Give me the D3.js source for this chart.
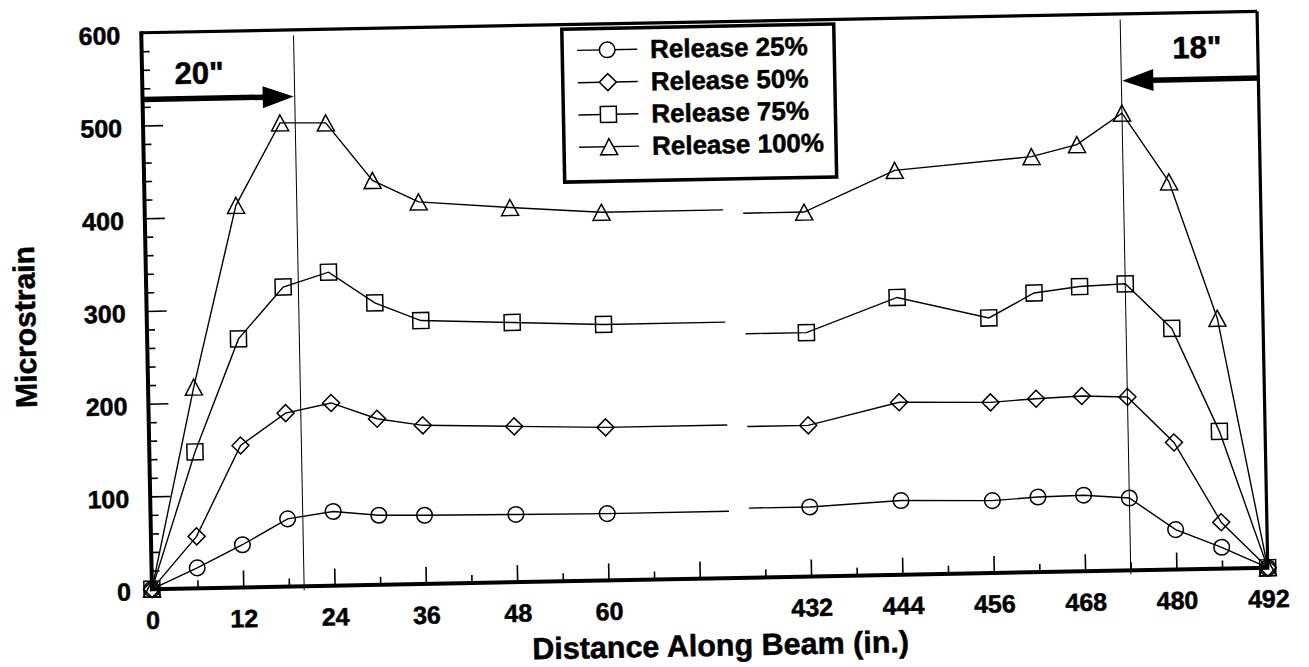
<!DOCTYPE html>
<html>
<head>
<meta charset="utf-8">
<script src="https://cdnjs.cloudflare.com/ajax/libs/d3/7.8.5/d3.min.js"></script>
<style>
  body { margin: 0; background: #fff; }
  text { font-family: "Liberation Sans", Arial, sans-serif; font-weight: bold; fill: #000; stroke: #000; stroke-width: 0.5px; }
</style>
</head>
<body>
<svg id="chart" width="1309" height="667"></svg>
<script>
// stations along the beam (in.), left end and right end of the beam
var posLeft = [0, 6, 12, 18, 24, 30, 36, 48, 60];
var posRight = [432, 444, 456, 462, 468, 474, 480, 486, 492];

// microstrain, null = no reading
var release25L = [0, 22, 46, 73, 80, 75, 74, 73, 72];
var release25R = [75, 80, 78, 81, 82, 78, 43, 23, 0];
var release50L = [0, 56, 153, 187, 197, 179, 171, 168, 165];
var release50R = [163, 186, 184, 187, 189, 187, 137, 50, 0];
var release75L = [0, 147, 268, 323, 338, 304, 284, 280, 276];
var release75R = [263, 299, 275, 301, 307, 309, 260, 148, 0];
var release100L = [0, 217, 412, 500, 499, 436, 412, 404, 397];
var release100R = [393, 436, null, 448, 460, 493, 418, 270, 0];

var seriesNames = ["Release 25%", "Release 50%", "Release 75%", "Release 100%"];
var seriesSymbols = ["circle", "diamond", "square", "triangle"];

var xMajor = [0, 12, 24, 36, 48, 60, 72, 432, 444, 456, 468, 480, 492];
var xMinor = [6, 18, 30, 42, 54, 66, 426, 438, 450, 462, 474, 486];
var xLabels = [0, 12, 24, 36, 48, 60, 432, 444, 456, 468, 480, 492];
var yMajor = [0, 100, 200, 300, 400, 500, 600];
var yMinor = d3.range(20, 600, 20).filter(v => v % 100 !== 0);

// transfer lengths marked on the plot
var transferLines = [20, 474];

var series = seriesNames.map((name, i) => ({
  name: name,
  symbol: seriesSymbols[i],
  left: posLeft.map((p, j) => ({ pos: p, val: [release25L, release50L, release75L, release100L][i][j] })).filter(d => d.val !== null),
  right: posRight.map((p, j) => ({ pos: p, val: [release25R, release50R, release75R, release100R][i][j] })).filter(d => d.val !== null)
}));

var plotL = 146.5, plotR = 1262.5, plotT = 22, plotB = 578.5;
var k = 7.61, gap = 20;

// broken axis: beam ends only
var x = d3.scaleLinear()
  .domain([0, 76, 424, 492])
  .range([plotL, plotL + 76 * k, plotL + 76 * k + gap, plotR]);
var y = d3.scaleLinear().domain([0, 600]).range([plotB, plotT]);

var svg = d3.select("#chart");
svg.append("rect").attr("width", 1309).attr("height", 667).attr("fill", "#fff");

// the scan is slightly tilted
var g = svg.append("g").attr("transform", "rotate(-1.1, 704, 300)");

// y axis ticks (inward)
g.append("g")
  .attr("transform", "translate(" + plotL + ",0)")
  .call(d3.axisLeft(y).tickValues(yMinor).tickSize(-8).tickFormat(""))
  .call(s => s.select(".domain").remove());
var gy = g.append("g")
  .attr("transform", "translate(" + plotL + ",0)")
  .call(d3.axisLeft(y).tickValues(yMajor).tickSize(-20).tickPadding(21).tickFormat(d3.format("d")))
  .call(s => s.select(".domain").remove());
gy.selectAll("text").attr("dy", "0.42em").style("font-size", "25px");

// x axis ticks (inward)
g.append("g")
  .attr("transform", "translate(0," + plotB + ")")
  .call(d3.axisBottom(x).tickValues(xMinor).tickSize(-8).tickFormat(""))
  .call(s => s.select(".domain").remove());
var gx = g.append("g")
  .attr("transform", "translate(0," + plotB + ")")
  .call(d3.axisBottom(x).tickValues(xMajor).tickSize(-17).tickPadding(22)
    .tickFormat(d => xLabels.includes(d) ? d : ""))
  .call(s => s.select(".domain").remove());
gx.selectAll("text").style("font-size", "25px");

g.selectAll(".tick line").attr("stroke", "#000").attr("stroke-width", 1.6);

// frame
g.append("line").attr("x1", plotL).attr("x2", plotR).attr("y1", plotT).attr("y2", plotT)
  .attr("stroke", "#000").attr("stroke-width", 3.2);
g.append("line").attr("x1", plotR).attr("x2", plotR).attr("y1", plotT).attr("y2", plotB)
  .attr("stroke", "#000").attr("stroke-width", 3.2);
g.append("line").attr("x1", plotL).attr("x2", plotL).attr("y1", plotT - 1.5).attr("y2", plotB + 2)
  .attr("stroke", "#000").attr("stroke-width", 4);
g.append("line").attr("x1", plotL - 2).attr("x2", plotR + 1.5).attr("y1", plotB).attr("y2", plotB)
  .attr("stroke", "#000").attr("stroke-width", 4);

// transfer length lines
g.selectAll(".tline").data(transferLines).enter().append("line")
  .attr("class", "tline")
  .attr("x1", d => x(d)).attr("x2", d => x(d))
  .attr("y1", y(594)).attr("y2", plotB + 4)
  .attr("stroke", "#000").attr("stroke-width", 1);

// arrows
function arrow(fromX, toX, atY) {
  var dir = toX > fromX ? 1 : -1;
  var headLen = 31, headH = 11;
  var tip = toX - dir * 1;
  g.append("line")
    .attr("x1", fromX).attr("x2", tip - dir * headLen + dir * 2)
    .attr("y1", atY).attr("y2", atY)
    .attr("stroke", "#000").attr("stroke-width", 5.5);
  g.append("path")
    .attr("d", "M" + tip + "," + atY + "L" + (tip - dir * headLen) + "," + (atY - headH) +
      "L" + (tip - dir * headLen) + "," + (atY + headH) + "Z")
    .attr("fill", "#000");
}
arrow(plotL, x(20), y(528));
arrow(plotR, x(474), y(528));

g.append("text").attr("x", x(7.5)).attr("y", y(544)).attr("text-anchor", "middle")
  .style("font-size", "31px").text('20"');
g.append("text").attr("x", x(484)).attr("y", y(551)).attr("text-anchor", "middle")
  .style("font-size", "31px").text('18"');

// series lines
var line = d3.line().x(d => x(d.pos)).y(d => y(d.val));
series.forEach(s => {
  var l = s.left.slice();
  l.push({ pos: 76, val: l[l.length - 1].val });
  var r = [{ pos: 424, val: s.right[0].val }].concat(s.right);
  [l, r].forEach(pts => {
    g.append("path").datum(pts).attr("d", line)
      .attr("fill", "none").attr("stroke", "#000").attr("stroke-width", 1.4);
  });
});

function symbolPath(type) {
  if (type === "circle") return "M-7.8,0A7.8,7.8 0 1,0 7.8,0A7.8,7.8 0 1,0 -7.8,0Z";
  if (type === "square") return "M-8,-8H8V8H-8Z";
  if (type === "diamond") return "M0,-8.5L8.5,0L0,8.5L-8.5,0Z";
  return "M0,-8L8.5,8H-8.5Z";
}

series.forEach(s => {
  g.append("g").selectAll("path")
    .data(s.left.concat(s.right)).enter().append("path")
    .attr("transform", d => "translate(" + x(d.pos) + "," + y(d.val) + ")")
    .attr("d", symbolPath(s.symbol))
    .attr("fill", "none").attr("stroke", "#000").attr("stroke-width", 1.5);
});

// axis titles
g.append("text").attr("x", 714).attr("y", 656).attr("text-anchor", "middle")
  .style("font-size", "30.5px").text("Distance Along Beam (in.)");
g.append("text").attr("transform", "translate(35,314) rotate(-90)").attr("text-anchor", "middle")
  .style("font-size", "30px").text("Microstrain");

// legend
var legend = g.append("g");
legend.append("rect").attr("x", 567).attr("y", 26.5).attr("width", 272).attr("height", 153)
  .attr("fill", "#fff").attr("stroke", "#000").attr("stroke-width", 3.5);
series.forEach((s, i) => {
  var ry = 48 + i * 32.3;
  legend.append("line").attr("x1", 582).attr("x2", 642).attr("y1", ry).attr("y2", ry)
    .attr("stroke", "#000").attr("stroke-width", 1.4);
  legend.append("path").attr("transform", "translate(612," + ry + ")")
    .attr("d", symbolPath(s.symbol)).attr("fill", "#fff").attr("stroke", "#000").attr("stroke-width", 1.5);
  legend.append("text").attr("x", 655).attr("y", ry + 9).style("font-size", "26px").text(s.name);
});
</script>
</body>
</html>
